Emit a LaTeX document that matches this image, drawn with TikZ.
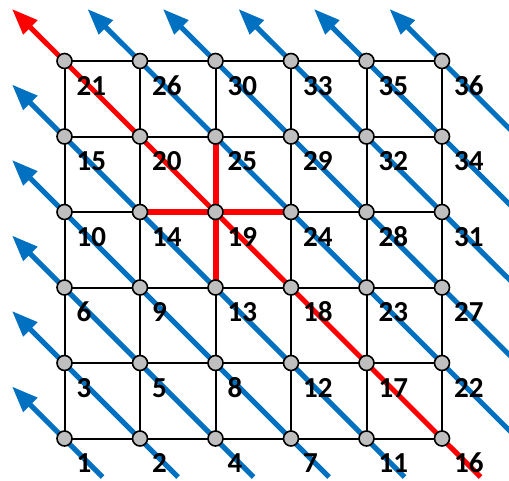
\documentclass[tikz,border=0pt]{standalone}
\usepackage{fontspec}
\setmainfont{Carlito}
\usetikzlibrary{arrows.meta}
\definecolor{ablue}{HTML}{0070C0}
\definecolor{ared}{HTML}{FF0000}
\definecolor{dotgray}{HTML}{BFBFBF}
\begin{document}
\begin{tikzpicture}[x=1pt,y=-1pt,
  gridline/.style={line width=2pt,draw=black},
  bluearrow/.style={draw=ablue,line width=5pt,-{Triangle[length=26pt,width=19pt]}},
  redarrow/.style={draw=ared,line width=5pt,-{Triangle[length=26pt,width=19pt]}},
  redcross/.style={draw=ared,line width=6pt},
  dot/.style={circle,fill=dotgray,draw=black,line width=1.6pt,minimum size=15pt,inner sep=0pt},
  lbl/.style={anchor=base west,inner sep=0pt,font=\fontsize{29}{29}\selectfont\bfseries}]
\useasboundingbox (0,0) rectangle (509,480);
\clip (0,0) rectangle (509,480);
% node positions
\foreach \c in {0,...,5}{
  \foreach \r in {0,...,5}{
    \coordinate (p\c\r) at ({64.5+75.5*\c},{61+75.5*\r});
  }
}
% grid
\foreach \r in {0,...,5}{
  \draw[gridline] (p0\r) -- (p5\r);
  \draw[gridline] (p\r0) -- (p\r5);
}
% blue diagonal arrows
\foreach \i in {1,...,5}{
  \coordinate (bt\i) at ({12+75.5*\i},9);
  \coordinate (be\i) at ({480.5+75.5*\i},477);
  \draw[bluearrow] (be\i) -- (bt\i);
  \coordinate (lt\i) at (12,{9+75.5*\i});
  \coordinate (le\i) at ({480-75.5*\i},477);
  \draw[bluearrow] (le\i) -- (lt\i);
}
% red diagonal arrow
\coordinate (rt) at (12,9);
\coordinate (re) at (480.5,477);
\draw[redarrow] (re) -- (rt);
% red cross
\draw[redcross] (p21) -- (p23);
\draw[redcross] (p12) -- (p32);
% dots
\foreach \c in {0,...,5}{
  \foreach \r in {0,...,5}{
    \node[dot] (n\c\r) at (p\c\r) {};
  }
}
% labels
\foreach \c/\r/\t in {
  0/0/21,1/0/26,2/0/30,3/0/33,4/0/35,5/0/36,
  0/1/15,1/1/20,2/1/25,3/1/29,4/1/32,5/1/34,
  0/2/10,1/2/14,2/2/19,3/2/24,4/2/28,5/2/31,
  0/3/6,1/3/9,2/3/13,3/3/18,4/3/23,5/3/27,
  0/4/3,1/4/5,2/4/8,3/4/12,4/4/17,5/4/22,
  0/5/1,1/5/2,2/5/4,3/5/7,4/5/11,5/5/16}{
  \node[lbl] (l\c\r) at ({76.5+75.5*\c},{95+75.5*\r}) {\t};
}
\end{tikzpicture}
\end{document}
